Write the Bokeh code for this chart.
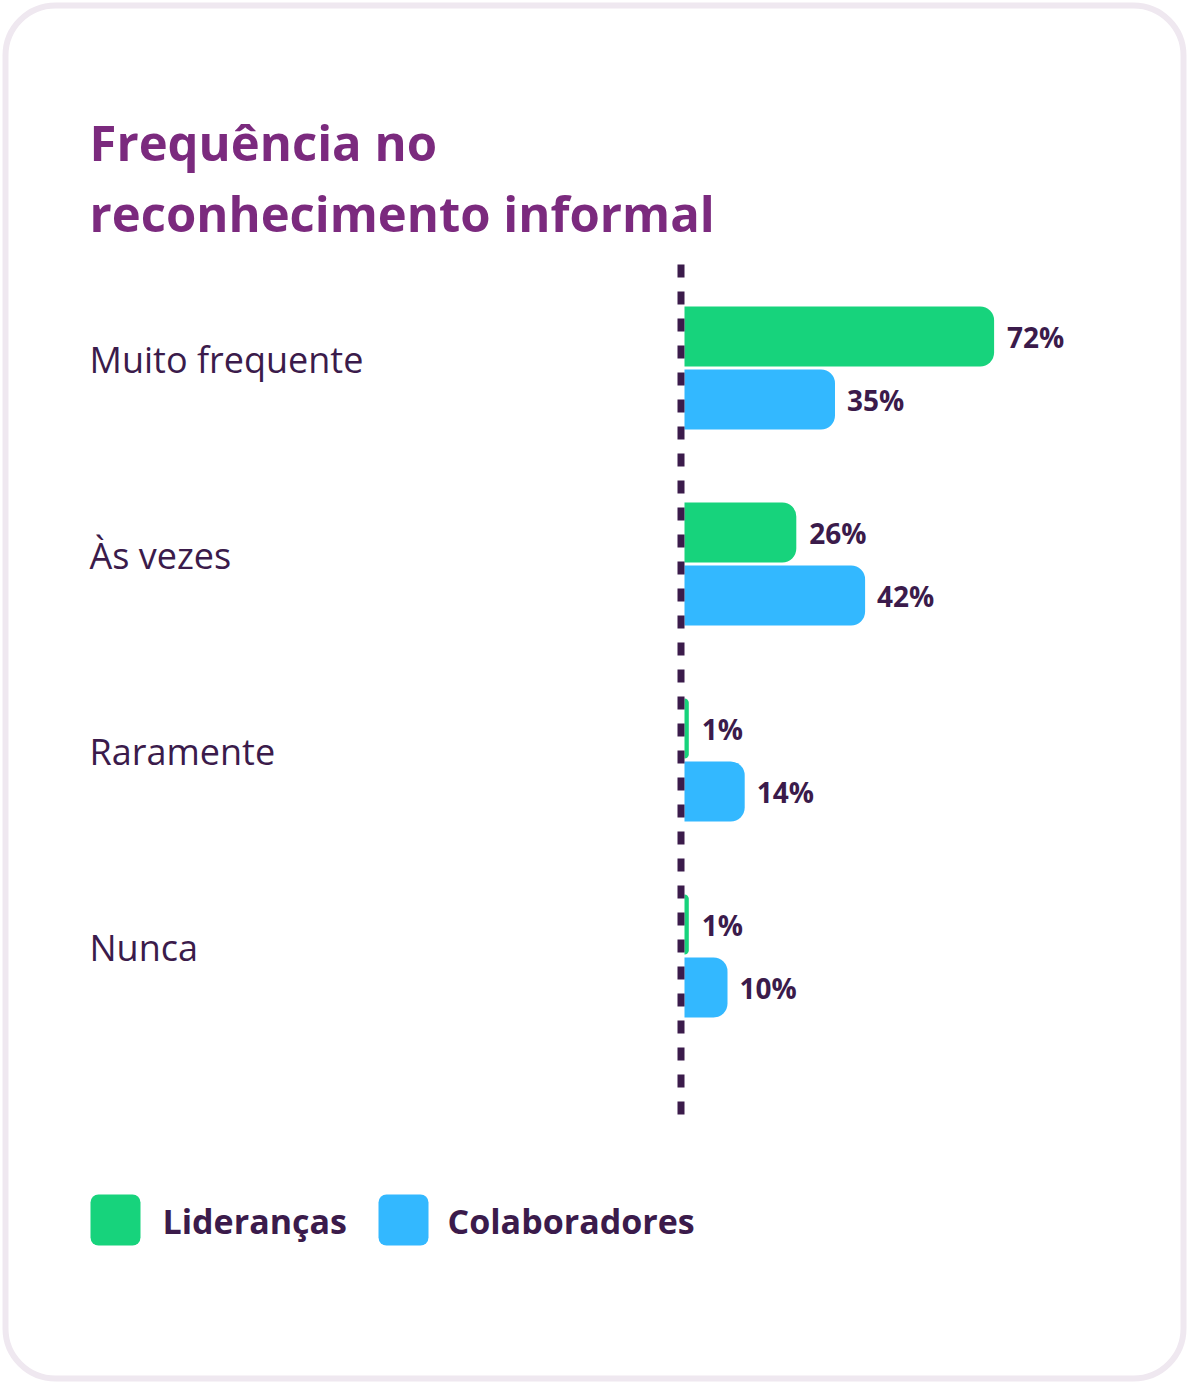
from bokeh.plotting import figure
from bokeh.models import Range1d
from bokeh.core.properties import value
from bokeh.embed import file_html
from bokeh.resources import INLINE

# ---- data ----
title_lines = ["Frequência no", "reconhecimento informal"]
categories = ["Muito frequente", "Às vezes", "Raramente", "Nunca"]
liderancas = [72, 26, 1, 1]
colaboradores = [35, 42, 14, 10]
series_names = ["Lideranças", "Colaboradores"]

# ---- style ----
GREEN = "#17d37c"
BLUE = "#33b8ff"
PURPLE = "#7b2a7e"
DARK = "#3b1b4b"
BORDER = "#efe8f0"
FONT = "Open Sans"

W, H = 1188, 1383
PX_PER_PCT = 4.3
ZERO_PX = 684          # figure px of the 0% baseline

def px2x(px):
    return (px - ZERO_PX) / PX_PER_PCT

p = figure(width=W, height=H, output_backend="svg", toolbar_location=None,
           x_range=Range1d(px2x(0), px2x(W)), y_range=Range1d(H, 0),
           min_border=0, background_fill_color="white", border_fill_color="white")
p.axis.visible = False
p.grid.visible = False
p.outline_line_color = None

# card border
p.rect(x=[px2x(W / 2)], y=[H / 2], width=W - 10, height=H - 10,
       width_units="screen", height_units="screen",
       fill_color="white", line_color=BORDER, line_width=6, border_radius=50)

# title
p.text(x=[px2x(89)] * 2, y=[141, 212], text=title_lines,
       text_font=value(FONT), text_font_style="bold", text_font_size="49px",
       text_color=PURPLE, text_baseline="middle", text_align="left")

# bars
n = len(categories)
GROUP_TOP = 306
SPACING = 196
BAR_H = 60
GAP = 3
g_top = [GROUP_TOP + i * SPACING for i in range(n)]
g_bot = [t + BAR_H for t in g_top]
b_top = [t + BAR_H + GAP for t in g_top]
b_bot = [t + BAR_H for t in b_top]

p.quad(left=[0] * n, right=liderancas, top=g_top, bottom=g_bot,
       fill_color=GREEN, line_color=None, border_radius=(0, 14, 14, 0))
p.quad(left=[0] * n, right=colaboradores, top=b_top, bottom=b_bot,
       fill_color=BLUE, line_color=None, border_radius=(0, 14, 14, 0))

# baseline dashed line (just left of the bars)
axis_x = px2x(ZERO_PX - 3.5)
p.segment(x0=[axis_x], x1=[axis_x], y0=[264], y1=[1121], line_color=DARK,
          line_width=7, line_dash="13 14")

# value labels
p.text(x=liderancas, y=[(a + b) / 2 for a, b in zip(g_top, g_bot)],
       text=[f"{v}%" for v in liderancas], x_offset=13,
       text_font=value(FONT), text_font_style="bold", text_font_size="28px",
       text_color=DARK, text_baseline="middle", text_align="left")
p.text(x=colaboradores, y=[(a + b) / 2 for a, b in zip(b_top, b_bot)],
       text=[f"{v}%" for v in colaboradores], x_offset=12,
       text_font=value(FONT), text_font_style="bold", text_font_size="28px",
       text_color=DARK, text_baseline="middle", text_align="left")

# category labels
p.text(x=[px2x(89)] * n, y=[t + BAR_H - 7 for t in g_top], text=categories,
       text_font=value(FONT), text_font_size="36px",
       text_color=DARK, text_baseline="middle", text_align="left")

# legend
leg_x = [90, 378]
leg_txt_x = [162, 447]
p.rect(x=[px2x(x + 25) for x in leg_x], y=[1219.5] * 2, width=50, height=51,
       width_units="screen", height_units="screen",
       fill_color=[GREEN, BLUE], line_color=None, border_radius=8)
p.text(x=[px2x(x) for x in leg_txt_x], y=[1220] * 2, text=series_names,
       text_font=value(FONT), text_font_style="bold", text_font_size="34px",
       text_color=DARK, text_baseline="middle", text_align="left")

open("out.html", "w").write(file_html(p, INLINE))
